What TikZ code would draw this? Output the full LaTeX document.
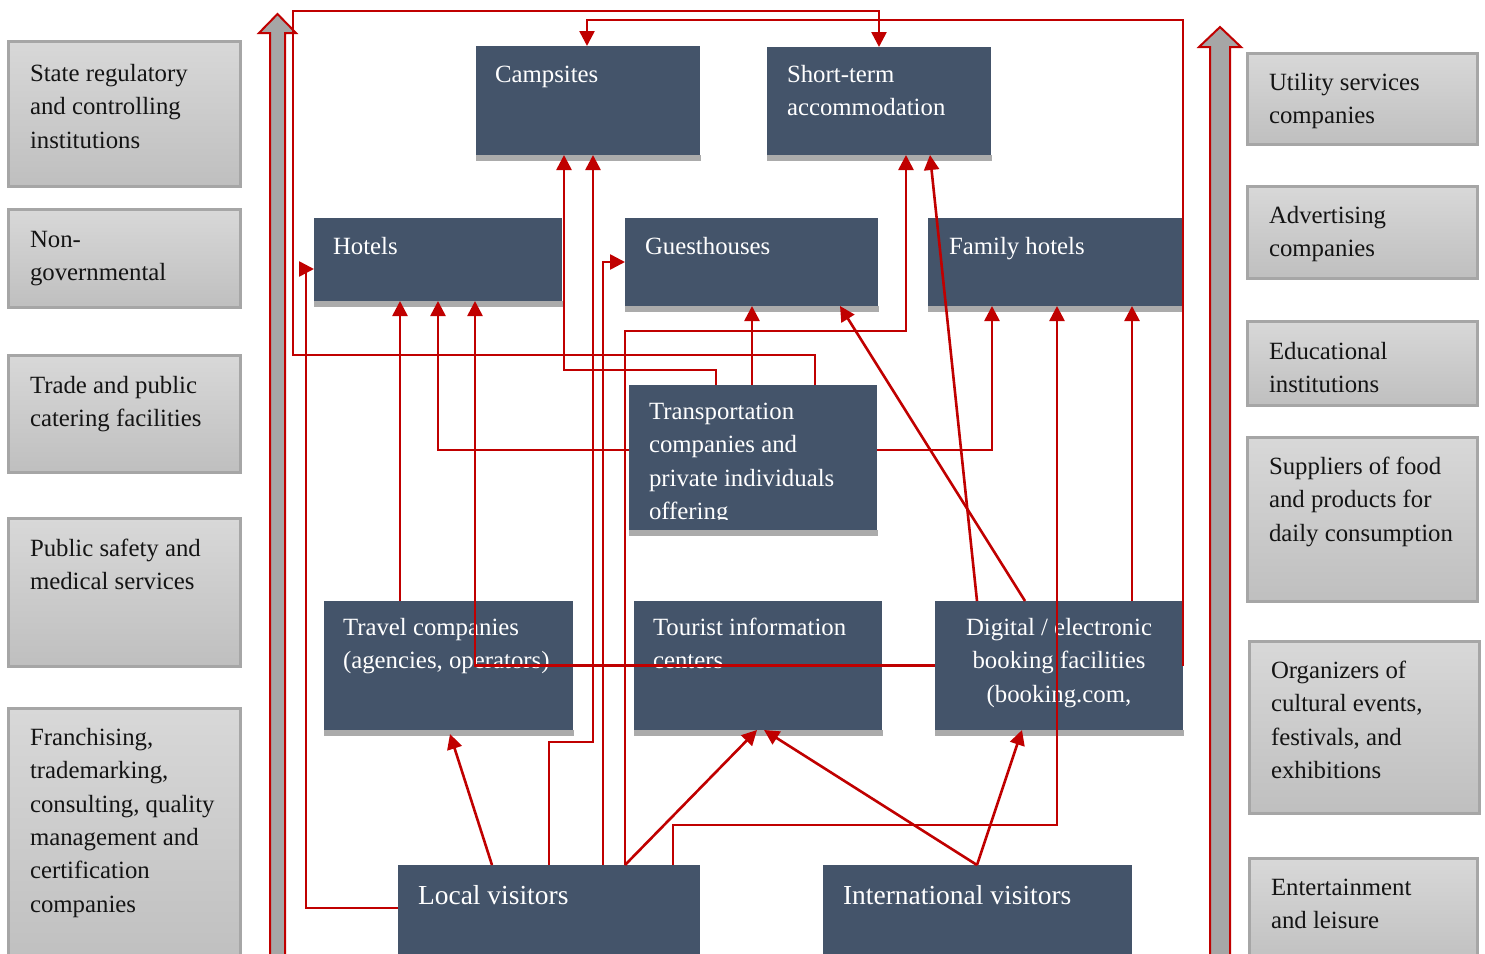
\documentclass[tikz,border=0pt]{standalone}
\usepackage{fontspec}
\setmainfont{Liberation Serif}
\usetikzlibrary{arrows.meta}
\definecolor{dk}{HTML}{44546A}
\definecolor{sh}{HTML}{ABABAB}
\definecolor{rd}{HTML}{C00000}
\definecolor{gb}{HTML}{A6A6A6}
\definecolor{gt}{HTML}{D8D8D8}
\definecolor{gbot}{HTML}{BFBFBF}
\begin{document}
\begin{tikzpicture}[x=1pt,y=-1pt,
 dbox/.style={rectangle,fill=dk,draw=none,inner sep=0pt,outer sep=0pt,anchor=north west},
 lbox/.style={rectangle,draw=gb,line width=3pt,top color=gt,bottom color=gbot,inner sep=0pt,outer sep=0pt,anchor=north west},
 wtxt/.style={anchor=north west,inner sep=0pt,outer sep=0pt,text=white,align=left,font=\fontsize{24.8}{33.4}\selectfont,execute at begin node={\rule{0pt}{18pt}}},
 btxt/.style={wtxt,text=black!92},
 vtxt/.style={wtxt,font=\fontsize{27.5}{36}\selectfont,execute at begin node={\rule{0pt}{20pt}}},
 conn/.style={draw=rd,line width=2.6pt,-{Triangle[length=15pt,width=15pt]}},
 bigarrow/.style={fill=gb,draw=rd,line width=2pt,line join=miter},
 shadowbar/.style={fill=sh,draw=none}
]
\useasboundingbox (0,0) rectangle (1485,953);

% big side arrows
\path[bigarrow] (270,960) -- (270,33) -- (259,33) -- (277.5,14) -- (296,33) -- (285,33) -- (285,960) -- cycle;
\path[bigarrow] (1210,960) -- (1210,47) -- (1199,47) -- (1220,27) -- (1241,47) -- (1230,47) -- (1230,960) -- cycle;

% left grey boxes
\node[lbox,minimum width=232pt,minimum height=145pt] (state) at (8.5,41.5) {};
\node[lbox,minimum width=232pt,minimum height=98pt] (ngo) at (8.5,209.5) {};
\node[lbox,minimum width=232pt,minimum height=117pt] (trade) at (8.5,355.5) {};
\node[lbox,minimum width=232pt,minimum height=148pt] (safety) at (8.5,518.5) {};
\node[lbox,minimum width=232pt,minimum height=260pt] (franch) at (8.5,708.5) {};
% right grey boxes
\node[lbox,minimum width=230pt,minimum height=91pt] (util) at (1247.5,53.5) {};
\node[lbox,minimum width=230pt,minimum height=92pt] (adv) at (1247.5,186.5) {};
\node[lbox,minimum width=230pt,minimum height=84pt] (edu) at (1247.5,321.5) {};
\node[lbox,minimum width=230pt,minimum height=164pt] (supp) at (1247.5,437.5) {};
\node[lbox,minimum width=230pt,minimum height=172pt] (org) at (1249.5,641.5) {};
\node[lbox,minimum width=228pt,minimum height=110pt] (ent) at (1249.5,858.5) {};

\node[btxt] (stateT) at (30,64) {State regulatory\\and controlling\\institutions};
\node[btxt] (ngoT) at (30,231) {Non-\\governmental};
\node[btxt] (tradeT) at (30,376) {Trade and public\\catering facilities};
\node[btxt] (safetyT) at (30,539) {Public safety and\\medical services};
\node[btxt] (franchT) at (30,728) {Franchising,\\trademarking,\\consulting, quality\\management and\\certification\\companies};
\node[btxt] (utilT) at (1269,73) {Utility services\\companies};
\node[btxt] (advT) at (1269,206) {Advertising\\companies};
\node[btxt] (eduT) at (1269,342) {Educational\\institutions};
\node[btxt] (suppT) at (1269,457) {Suppliers of food\\and products for\\daily consumption};
\node[btxt] (orgT) at (1271,661) {Organizers of\\cultural events,\\festivals, and\\exhibitions};
\node[btxt] (entT) at (1271,879) {Entertainment\\and leisure};

% dark boxes
\node[dbox,minimum width=224pt,minimum height=109pt] (camp) at (476,46) {};
\node[dbox,minimum width=224pt,minimum height=108pt] (short) at (767,47) {};
\node[dbox,minimum width=248pt,minimum height=83pt] (hotels) at (314,218) {};
\node[dbox,minimum width=253pt,minimum height=88pt] (guest) at (625,218) {};
\node[dbox,minimum width=254pt,minimum height=88pt] (family) at (928,218) {};
\node[dbox,minimum width=248pt,minimum height=145pt] (trans) at (629,385) {};
\node[dbox,minimum width=249pt,minimum height=129pt] (travel) at (324,601) {};
\node[dbox,minimum width=248pt,minimum height=129pt] (tour) at (634,601) {};
\node[dbox,minimum width=248pt,minimum height=129pt] (digital) at (935,601) {};
\node[dbox,minimum width=302pt,minimum height=95pt] (local) at (398,865) {};
\node[dbox,minimum width=309pt,minimum height=95pt] (intl) at (823,865) {};
\foreach \b in {camp,short,hotels,guest,family,trans,travel,tour,digital}
  \path[shadowbar] (\b.south west) rectangle ([xshift=1pt,yshift=-6pt]\b.south east);

\node[wtxt] (campT) at (495,64) {Campsites};
\node[wtxt] (shortT) at (787,65) {Short-term\\accommodation};
\node[wtxt] (hotelsT) at (333,236) {Hotels};
\node[wtxt] (guestT) at (645,236) {Guesthouses};
\node[wtxt] (familyT) at (949,236) {Family hotels};
\begin{scope}
\clip (629,385) rectangle (877,519);
\node[wtxt] (transT) at (649,403) {Transportation\\companies and\\private individuals\\offering};
\end{scope}
\node[wtxt] (travelT) at (343,618) {Travel companies\\(agencies, operators)};
\begin{scope}
\clip (634,601) rectangle (882,668);
\node[wtxt] (tourT) at (653,618) {Tourist information\\centers};
\end{scope}
\node[wtxt,anchor=north,align=center] (digitalT) at (1059,618) {Digital / electronic\\booking facilities\\(booking.com,};
\node[vtxt] (localT) at (418,884) {Local visitors};
\node[vtxt] (intlT) at (843,884) {International visitors};

% connectors
\draw[conn] ([xshift=186pt]trans.north west) |- (293,355) |- (879,11) -- ([xshift=112pt]short.north west);
\draw[conn] (digital.east) |- (587,20) -- ([xshift=111pt]camp.north west);
\draw[conn] (digital.west) -| ([xshift=161pt]hotels.south west);
\draw[conn] ([xshift=76pt]travel.north west) -- ([xshift=86pt]hotels.south west);
\draw[conn] ([yshift=-65pt]trans.north west) -| ([xshift=124pt]hotels.south west);
\draw[conn] ([yshift=-43pt]local.north west) -| (306,269) -- ([yshift=-51pt]hotels.north west);
\draw[conn] ([xshift=87pt]trans.north west) |- (564,370) -- ([xshift=88pt]camp.south west);
\draw[conn] ([xshift=151pt]local.north west) |- (593,742) -- ([xshift=117pt]camp.south west);
\draw[conn] ([xshift=205pt]local.north west) |- (guest.west);
\draw[conn] ([xshift=123pt]trans.north west) -- ([xshift=127pt]guest.south west);
\draw[conn] ([xshift=90pt]digital.north west) -- ([xshift=215pt]guest.south west);
\draw[conn] ([xshift=227pt]local.north west) |- (906,331) -- ([xshift=139pt]short.south west);
\draw[conn] ([xshift=227pt]local.north west) -- ([xshift=123pt]tour.south west);
\draw[conn] ([xshift=42pt]digital.north west) -- ([xshift=163pt]short.south west);
\draw[conn] ([yshift=-65pt]trans.north east) -| ([xshift=64pt]family.south west);
\draw[conn] ([xshift=275pt]local.north west) |- (1057,825) -- ([xshift=129pt]family.south west);
\draw[conn] ([xshift=197pt]digital.north west) -- ([xshift=204pt]family.south west);
\draw[conn] ([xshift=94pt]local.north west) -- ([xshift=126pt,yshift=-4pt]travel.south west);
\draw[conn] ([xshift=154pt]intl.north west) -- ([xshift=130pt]tour.south west);
\draw[conn] ([xshift=154pt]intl.north west) -- ([xshift=87pt]digital.south west);
\end{tikzpicture}
\end{document}
